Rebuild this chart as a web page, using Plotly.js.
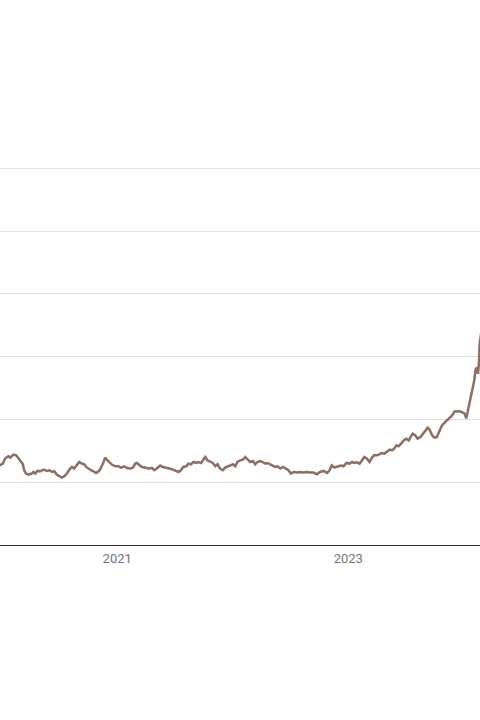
<!DOCTYPE html>
<html>
<head>
<meta charset="utf-8">
<script src="https://cdn.plot.ly/plotly-3.0.1.min.js"></script>
<style>
  html, body { margin: 0; padding: 0; background: #ffffff; }
  #chart { width: 480px; height: 720px; }
</style>
</head>
<body>
<div id="chart"></div>
<script>
// Trading dates
const dates = [
  '2019-12-20','2019-12-28','2020-01-06','2020-01-13','2020-01-23','2020-01-29','2020-02-08','2020-02-17','2020-02-24',
  '2020-03-03','2020-03-09','2020-03-13','2020-03-19','2020-03-27','2020-04-06','2020-04-11','2020-04-17','2020-04-24',
  '2020-05-03','2020-05-13','2020-05-24','2020-06-01','2020-06-09','2020-06-16','2020-06-24','2020-07-03','2020-07-10',
  '2020-07-18','2020-07-26','2020-08-03','2020-08-11','2020-08-18','2020-08-27','2020-09-03','2020-09-11','2020-09-19',
  '2020-09-25','2020-10-02','2020-10-10','2020-10-18','2020-10-26','2020-11-01','2020-11-08','2020-11-17','2020-11-24',
  '2020-11-29','2020-12-08','2020-12-15','2020-12-26',
  '2021-01-05','2021-01-13','2021-01-23','2021-02-01','2021-02-11','2021-02-20','2021-02-27','2021-03-04','2021-03-12',
  '2021-03-20','2021-03-30','2021-04-10','2021-04-21','2021-04-28','2021-05-06','2021-05-17','2021-05-25','2021-06-05',
  '2021-06-15','2021-06-26','2021-07-06','2021-07-14','2021-07-21','2021-07-29','2021-08-07','2021-08-14','2021-08-22',
  '2021-08-30','2021-09-08','2021-09-15','2021-09-23','2021-10-01','2021-10-06','2021-10-13','2021-10-22','2021-10-30',
  '2021-11-07','2021-11-14','2021-11-22','2021-12-01','2021-12-08','2021-12-16','2021-12-24',
  '2022-01-02','2022-01-09','2022-01-16','2022-01-25','2022-02-02','2022-02-10','2022-02-17','2022-02-25','2022-03-06',
  '2022-03-13','2022-03-20','2022-03-29','2022-04-06','2022-04-14','2022-04-21','2022-04-29','2022-05-08','2022-05-15',
  '2022-05-23','2022-05-31','2022-06-09','2022-06-16','2022-06-26','2022-07-04','2022-07-12','2022-07-23','2022-08-02',
  '2022-08-13','2022-08-23','2022-09-03','2022-09-13','2022-09-24','2022-10-04','2022-10-15','2022-10-26','2022-11-03',
  '2022-11-10','2022-11-18','2022-11-28','2022-12-09','2022-12-17','2022-12-26',
  '2023-01-05','2023-01-13','2023-01-20','2023-01-28','2023-02-06','2023-02-13','2023-02-21','2023-03-01','2023-03-09',
  '2023-03-17','2023-03-24','2023-04-02','2023-04-10','2023-04-17','2023-04-25','2023-05-03','2023-05-12','2023-05-19',
  '2023-05-26','2023-06-02','2023-06-09','2023-06-17','2023-06-25','2023-07-03','2023-07-11','2023-07-18','2023-07-24',
  '2023-08-01','2023-08-08','2023-08-17','2023-08-25','2023-09-01','2023-09-09','2023-09-15','2023-09-23','2023-09-30',
  '2023-10-08','2023-10-17','2023-10-24','2023-10-31','2023-11-09','2023-11-17','2023-11-25','2023-12-03','2023-12-10',
  '2023-12-19','2023-12-26',
  '2024-01-03','2024-01-09','2024-01-13','2024-01-16','2024-01-24','2024-01-30','2024-02-03','2024-02-07','2024-02-12',
  '2024-02-15','2024-02-18','2024-02-20','2024-02-28','2024-03-08'
];

// Price values
const prices = [
  2500,2540,2594,2752,2825,2784,2879,2857,2752,
  2644,2571,2381,2276,2244,2276,2327,2276,2359,
  2349,2403,2359,2381,2327,2349,2244,2190,2149,
  2190,2276,2403,2486,2435,2540,2644,2594,2571,
  2486,2435,2381,2349,2295,2327,2403,2594,2784,
  2721,2644,2562,2508,
  2508,2467,2508,2454,2435,2467,2594,2613,2540,
  2486,2467,2435,2454,2381,2435,2530,2486,2467,
  2435,2403,2359,2327,2381,2486,2508,2594,2571,
  2644,2613,2644,2613,2752,2803,2698,2644,2613,
  2508,2571,2435,2381,2467,2508,2540,
  2571,2508,2644,2698,2721,2803,2721,2644,2676,
  2571,2644,2676,2644,2594,2613,2571,2530,2486,
  2508,2435,2486,2435,2381,2276,2327,2308,2327,
  2308,2327,2308,2308,2254,2327,2359,2295,2381,
  2540,2467,2508,2530,2508,2613,
  2594,2644,2613,2635,2594,2676,2803,2752,2644,
  2784,2857,2857,2889,2930,2911,2962,3038,3016,
  3070,3175,3143,3229,3333,3387,3333,3460,3546,
  3492,3387,3438,3546,3629,3737,3673,3492,3419,
  3438,3651,3810,3883,3968,4054,4127,4254,4248,
  4263,4232,
  4190,4038,4232,4340,4657,4975,5238,5578,5660,
  5451,5819,6403,7000,7600
];

const yTicks = [0, 2000, 4000, 6000, 8000, 10000, 12000];
const xTickVals = ['2021-01-01', '2023-01-01'];
const xTickText = ['2021', '2023'];

const trace = {
  x: dates,
  y: prices,
  type: 'scatter',
  mode: 'lines',
  line: { color: '#8d6e63', width: 2.5 },
  hoverinfo: 'x+y'
};

const layout = {
  width: 480,
  height: 720,
  margin: { l: 0, r: 0, t: 162, b: 175, pad: 0 },
  paper_bgcolor: '#ffffff',
  plot_bgcolor: '#ffffff',
  showlegend: false,
  font: { family: 'Roboto, Arial, sans-serif', size: 12, color: '#757575' },
  xaxis: {
    type: 'date',
    range: ['2019-12-27 17:00', '2024-02-21 05:00'],
    tickmode: 'array',
    tickvals: xTickVals,
    ticktext: xTickText,
    showgrid: false,
    zeroline: false,
    showline: true,
    linecolor: '#333333',
    linewidth: 1,
    ticks: '',
    ticklabelstandoff: 1,
    tickfont: { family: 'Roboto, Arial, sans-serif', size: 13, color: '#757575' }
  },
  yaxis: {
    range: [0, 12200],
    tickmode: 'array',
    tickvals: yTicks,
    showticklabels: false,
    showgrid: true,
    gridcolor: '#e0e0e0',
    gridwidth: 1,
    zeroline: false,
    showline: false,
    ticks: ''
  }
};

Plotly.newPlot('chart', [trace], layout, { displayModeBar: false, staticPlot: true });
</script>
</body>
</html>
